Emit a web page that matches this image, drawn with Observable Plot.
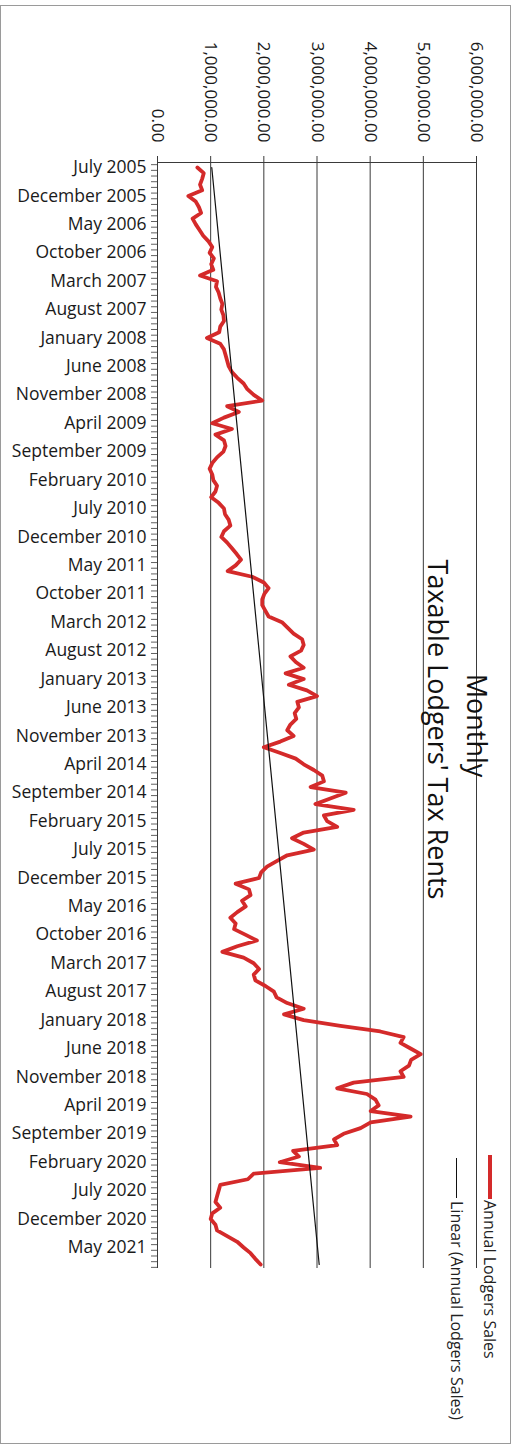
<!DOCTYPE html>
<html>
<head>
<meta charset="utf-8">
<script src="https://cdn.jsdelivr.net/npm/d3@7"></script>
<script src="https://cdn.jsdelivr.net/npm/@observablehq/plot@0.6"></script>
<style>
  html, body { margin: 0; padding: 0; background: white; }
  #wrap { position: relative; width: 515px; height: 1448px; overflow: hidden; font-family: "Open Sans", sans-serif; }
  #border { position: absolute; left: 0px; top: 5px; width: 511px; height: 1439px; border: 1px solid #9a9a9a; box-sizing: border-box; pointer-events: none; }
  .leg { position: absolute; writing-mode: vertical-rl; font-size: 16px; color: #222; white-space: nowrap; }
  .sw { position: absolute; }
</style>
</head>
<body>
<div id="wrap">
  <div id="chart"></div>
  <div id="border"></div>
  <div class="sw" style="left:488px; top:1155px; width:4px; height:44px; background:#d42a2a;"></div>
  <div class="leg" style="left:479px; top:1200px;">Annual Lodgers Sales</div>
  <div class="sw" style="left:456px; top:1158px; width:1.3px; height:40px; background:#111;"></div>
  <div class="leg" style="left:446px; top:1201px;">Linear (Annual Lodgers Sales)</div>
</div>
<script>
// Monthly values (millions of dollars), July 2005 onward
const salesMillions = [
  0.75, 0.87, 0.84, 0.80, 0.84, 0.58, 0.72, 0.78, 0.82, 0.66,
  0.72, 0.79, 0.86, 0.96, 1.03, 0.98, 1.06, 1.01, 1.05, 0.80,
  1.12, 1.10, 1.15, 1.18, 1.22, 1.20, 1.24, 1.25, 1.18, 1.16,
  0.93, 1.18, 1.25, 1.28, 1.31, 1.34, 1.40, 1.50, 1.62, 1.69,
  1.81, 1.97, 1.31, 1.53, 1.25, 1.03, 1.40, 1.09, 1.25, 1.28,
  1.24, 1.12, 1.03, 0.98, 1.03, 1.05, 1.12, 1.09, 1.01, 1.15,
  1.25, 1.27, 1.34, 1.37, 1.25, 1.20, 1.31, 1.40, 1.49, 1.57,
  1.47, 1.32, 1.78, 2.00, 2.09, 2.01, 1.97, 1.97, 2.03, 2.09,
  2.34, 2.45, 2.56, 2.72, 2.75, 2.70, 2.50, 2.60, 2.75, 2.41,
  2.75, 2.47, 2.81, 3.00, 2.63, 2.66, 2.58, 2.61, 2.50, 2.44,
  2.56, 2.31, 2.00, 2.31, 2.60, 2.75, 2.94, 3.10, 3.13, 2.88,
  3.54, 3.25, 2.97, 3.69, 3.13, 3.19, 3.38, 2.75, 2.53, 2.75,
  2.94, 2.44, 2.25, 2.06, 1.95, 1.91, 1.47, 1.72, 1.75, 1.59,
  1.66, 1.50, 1.37, 1.47, 1.44, 1.66, 1.87, 1.50, 1.22, 1.62,
  1.81, 1.91, 1.81, 1.84, 2.03, 2.19, 2.24, 2.44, 2.75, 2.38,
  2.75, 3.44, 4.19, 4.63, 4.57, 4.76, 4.95, 4.77, 4.73, 4.57,
  4.63, 3.69, 3.38, 3.94, 4.10, 4.16, 4.01, 4.76, 4.01, 3.82,
  3.50, 3.32, 3.38, 2.55, 2.66, 2.30, 3.06, 1.81, 1.70, 1.18,
  1.15, 1.12, 1.09, 1.18, 1.03, 1.00, 1.09, 1.12, 1.31, 1.50,
  1.62, 1.75, 1.84, 1.94
];

// Category labels shown every 5 months
const monthLabels = [
  "July 2005", "December 2005", "May 2006", "October 2006", "March 2007",
  "August 2007", "January 2008", "June 2008", "November 2008", "April 2009",
  "September 2009", "February 2010", "July 2010", "December 2010", "May 2011",
  "October 2011", "March 2012", "August 2012", "January 2013", "June 2013",
  "November 2013", "April 2014", "September 2014", "February 2015", "July 2015",
  "December 2015", "May 2016", "October 2016", "March 2017", "August 2017",
  "January 2018", "June 2018", "November 2018", "April 2019", "September 2019",
  "February 2020", "July 2020", "December 2020", "May 2021"
];
const labelStep = 5;

const valueTicks = [0, 1000000, 2000000, 3000000, 4000000, 5000000, 6000000];
const gridValues = [1000000, 2000000, 3000000, 4000000, 5000000, 6000000];

const table = salesMillions.map((v, i) => ({i, value: v * 1e6}));
const labelRows = monthLabels.map((t, k) => ({i: k * labelStep, t}));
const nMonths = salesMillions.length;
const monthTicks = d3.range(nMonths + 1).map(k => k - 0.5);

const yTop = -0.88, yBottom = nMonths - 0.3;
const pxPerMonth = (1448 - 162 - 180) / (yBottom - yTop);
const pxPerDollar = (515 - 157 - 39) / 6e6;
const fmt = d3.format(",.2f");

const chart = Plot.plot({
  width: 515,
  height: 1448,
  marginLeft: 157,
  marginRight: 39,
  marginTop: 162,
  marginBottom: 180,
  style: {fontFamily: "Open Sans", fontSize: "17.5px", background: "transparent", overflow: "visible", color: "#222"},
  x: {domain: [0, 6e6], axis: null},
  y: {domain: [yTop, yBottom], reverse: true, axis: null},
  marks: [
    Plot.ruleX(gridValues, {stroke: "#3a3a3a", strokeWidth: 1}),
    Plot.ruleX([0], {stroke: "#3a3a3a", strokeWidth: 1}),
    Plot.ruleY([yTop], {stroke: "#3a3a3a", strokeWidth: 1}),
    // top ticks
    Plot.ruleX(valueTicks, {y1: yTop - 6 / pxPerMonth, y2: yTop, stroke: "#3a3a3a", strokeWidth: 1}),
    // month ticks
    Plot.ruleY(monthTicks, {x1: -6 / pxPerDollar, x2: 0, stroke: "#3a3a3a", strokeWidth: 0.8}),
    // value tick labels (rotated)
    Plot.text(valueTicks, {x: d => d, frameAnchor: "top", dy: -20, rotate: 90, textAnchor: "end", lineAnchor: "middle", text: d => fmt(d), fill: "#1a1a1a", fontSize: 17}),
    // month labels
    Plot.text(labelRows, {y: "i", frameAnchor: "left", dx: -11, textAnchor: "end", lineAnchor: "middle", text: "t", fill: "#1a1a1a"}),
    // title
    Plot.text(["Monthly"], {frameAnchor: "top-left", dx: 318, dy: 563, rotate: 90, textAnchor: "middle", lineAnchor: "middle", fontSize: 27, fill: "#111"}),
    Plot.text(["Taxable Lodgers' Tax Rents"], {frameAnchor: "top-left", dx: 279, dy: 567, rotate: 90, textAnchor: "middle", lineAnchor: "middle", fontSize: 27, fill: "#111"}),
    // data
    Plot.line(table, {x: "value", y: "i", stroke: "#d42a2a", strokeWidth: 3.8, strokeLinejoin: "round"}),
    Plot.linearRegressionX(table, {x: "value", y: "i", stroke: "#111", strokeWidth: 1.2, ci: 0})
  ]
});
document.getElementById("chart").appendChild(chart);
</script>
</body>
</html>
